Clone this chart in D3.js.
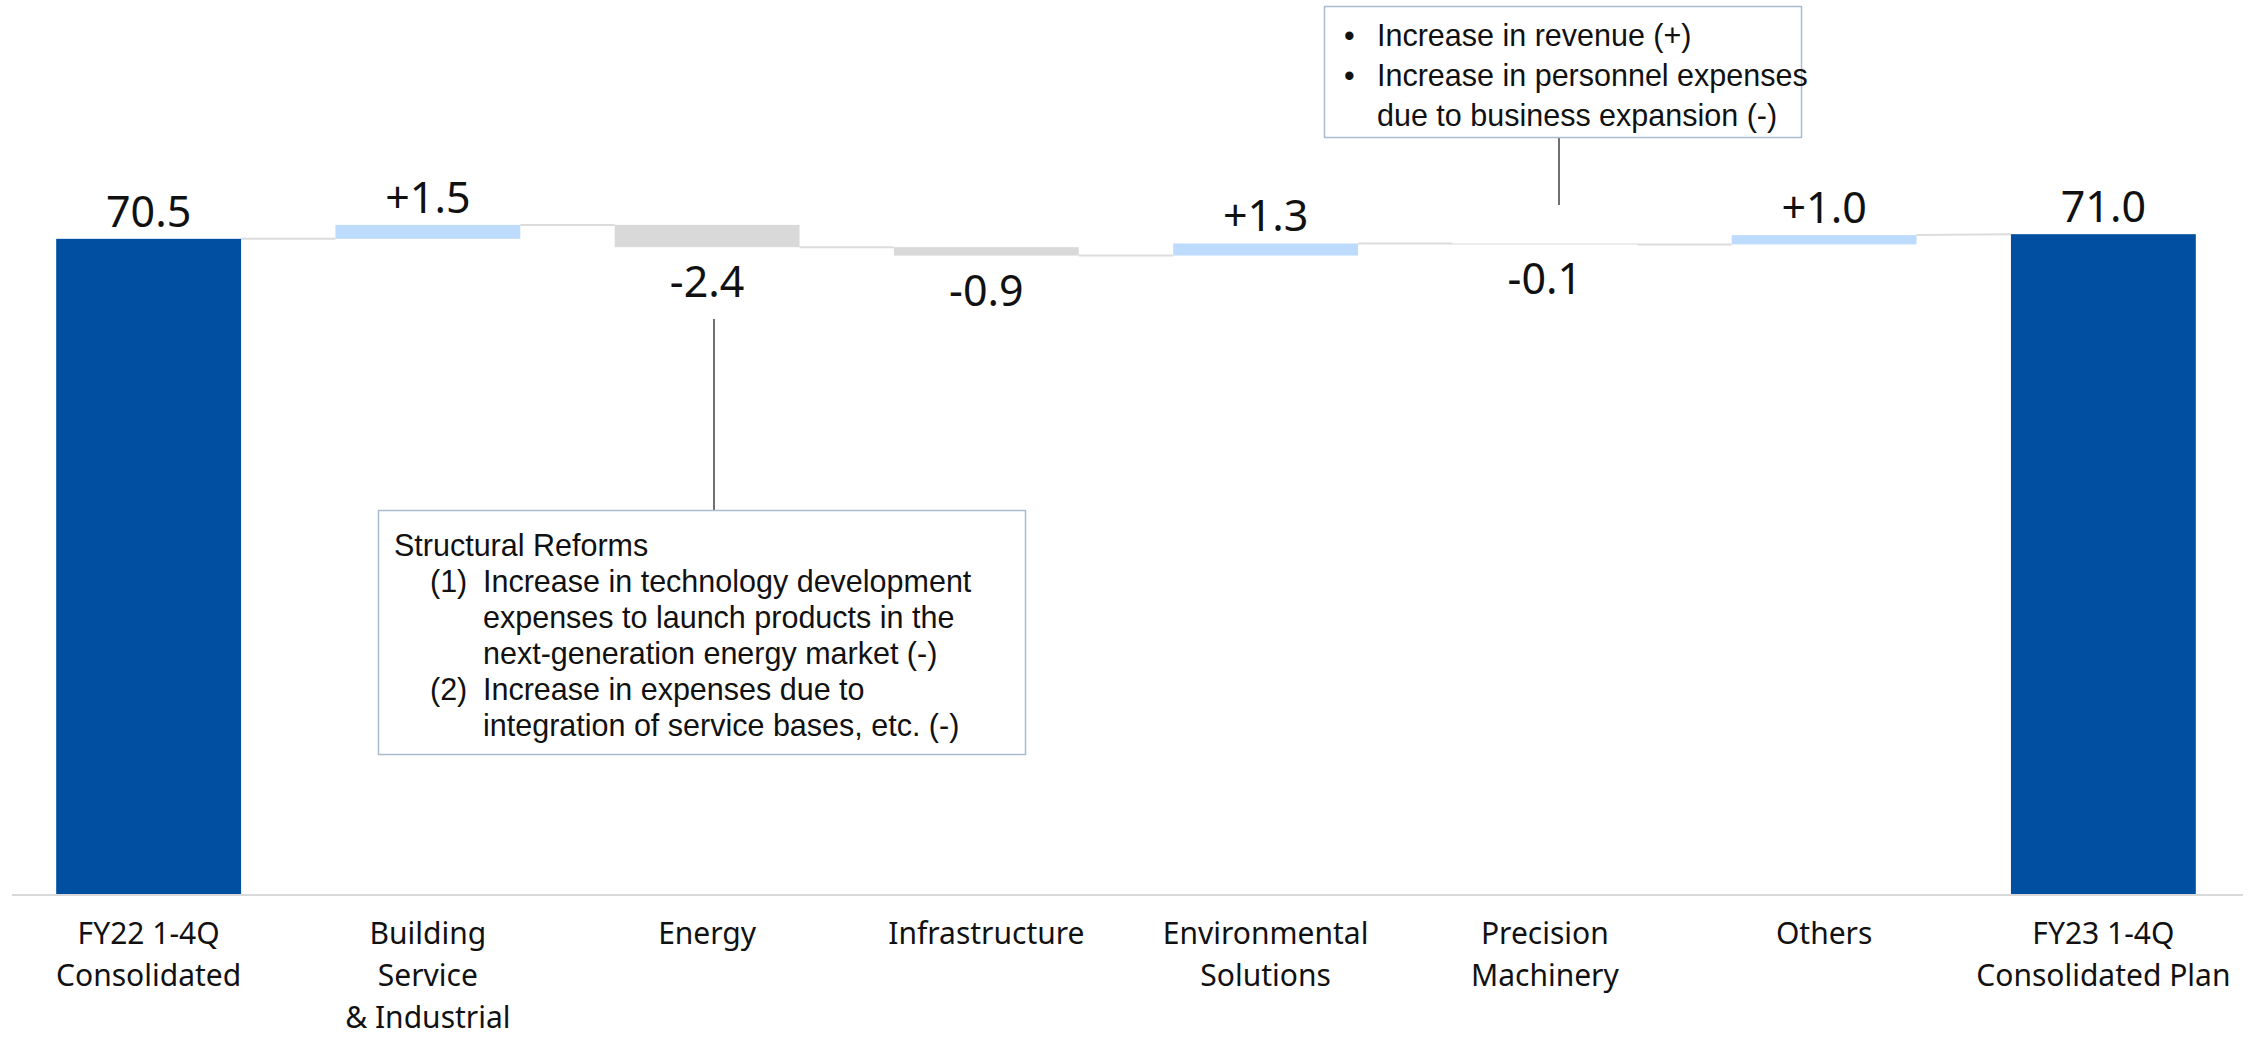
<!DOCTYPE html>
<html>
<head>
<meta charset="utf-8">
<script src="https://cdn.jsdelivr.net/npm/d3@7.9.0/dist/d3.min.js"></script>
<style>
  html, body { margin: 0; padding: 0; background: #fff; }
  svg { display: block; font-family: "Noto Sans", sans-serif; }
  .note { font-family: "Liberation Sans", Arial, sans-serif; }
</style>
</head>
<body>
<svg id="chart"></svg>
<script>
const width = 2261;
const height = 1037;

// categories (each label split into lines)
const categories = [
  ["FY22 1-4Q", "Consolidated"],
  ["Building", "Service", "& Industrial"],
  ["Energy"],
  ["Infrastructure"],
  ["Environmental", "Solutions"],
  ["Precision", "Machinery"],
  ["Others"],
  ["FY23 1-4Q", "Consolidated Plan"]
];
const values = [70.5, 1.5, -2.4, -0.9, 1.3, -0.1, 1.0, 71.0];
const isTotal = [true, false, false, false, false, false, false, true];

const energyNote = [
  { text: "Structural Reforms", num: "" },
  { text: "Increase in technology development", num: "(1)" },
  { text: "expenses to launch products in the", num: "" },
  { text: "next-generation energy market (-)", num: "" },
  { text: "Increase in expenses due to", num: "(2)" },
  { text: "integration of service bases, etc. (-)", num: "" }
];
const precisionNote = [
  { text: "Increase in revenue (+)", bullet: true },
  { text: "Increase in personnel expenses", bullet: true },
  { text: "due to business expansion (-)", bullet: false }
];

const colors = { total: "#004fa0", up: "#bddbfd", down: "#d9d9d9" };

const keys = categories.map((c) => c.join(" "));

// build waterfall steps
let running = 0;
const steps = values.map((v, i) => {
  let start, end;
  if (isTotal[i]) {
    start = 0;
    end = v;
    running = v;
  } else {
    start = running;
    end = running + v;
    running = end;
  }
  return { key: keys[i], lines: categories[i], value: v, total: isTotal[i], start, end };
});

const svg = d3.select("#chart").attr("width", width).attr("height", height);

const x = d3.scaleBand()
  .domain(keys)
  .range([9, 2243])
  .paddingInner(0.338)
  .paddingOuter(0.169);

const y = d3.scaleLinear().domain([0, 96.2]).range([894, 0]);

// connectors between bars
const conn = svg.append("g").attr("class", "connectors");
steps.slice(0, -1).forEach((d, i) => {
  const next = steps[i + 1];
  const nextStart = next.total ? next.end : next.start;
  conn.append("line")
    .attr("x1", x(d.key) + x.bandwidth())
    .attr("x2", x(next.key))
    .attr("y1", y(d.end))
    .attr("y2", y(nextStart))
    .attr("stroke", "#dcdcdc")
    .attr("stroke-width", 2);
});

// bars
svg.append("g")
  .selectAll("rect")
  .data(steps)
  .join("rect")
  .attr("x", (d) => x(d.key))
  .attr("width", x.bandwidth())
  .attr("y", (d) => y(Math.max(d.start, d.end)))
  .attr("height", (d) => Math.max(1, Math.abs(y(d.start) - y(d.end))))
  .attr("fill", (d) => d.total ? colors.total : (d.value >= 0 ? colors.up : colors.down));

// baseline axis
svg.append("line")
  .attr("x1", x.range()[0] + 3).attr("x2", x.range()[1])
  .attr("y1", y(0) + 1).attr("y2", y(0) + 1)
  .attr("stroke", "#d9d9d9").attr("stroke-width", 2);

// value labels
const fmtTotal = d3.format(".1f");
const fmtDelta = d3.format("+.1f");
svg.append("g")
  .selectAll("text")
  .data(steps)
  .join("text")
  .attr("x", (d) => x(d.key) + x.bandwidth() / 2)
  .attr("y", (d) => {
    if (d.total || d.value >= 0) return y(Math.max(d.start, d.end)) - 12;
    return y(Math.min(d.start, d.end)) + 50;
  })
  .attr("text-anchor", "middle")
  .attr("font-size", 43)
  .attr("fill", "#111")
  .text((d) => d.total ? fmtTotal(d.value) : fmtDelta(d.value).replace("\u2212", "-"));

// category labels
const cat = svg.append("g").selectAll("text").data(steps).join("text")
  .attr("text-anchor", "middle")
  .attr("font-size", 30)
  .attr("fill", "#111");
cat.each(function (d) {
  const t = d3.select(this);
  d.lines.forEach((ln, j) => {
    t.append("tspan")
      .attr("x", x(d.key) + x.bandwidth() / 2)
      .attr("y", 944 + j * 42)
      .text(ln);
  });
});

// annotation: Energy
svg.append("line")
  .attr("x1", 714).attr("x2", 714)
  .attr("y1", 319).attr("y2", 510)
  .attr("stroke", "#404040").attr("stroke-width", 1.5);
const eBox = svg.append("g").attr("class", "note");
eBox.append("rect")
  .attr("x", 378.5).attr("y", 510.5).attr("width", 647).attr("height", 244)
  .attr("fill", "#fff").attr("stroke", "#a9bccf").attr("stroke-width", 1.5);
energyNote.forEach((ln, j) => {
  const yy = 556 + j * 36;
  if (ln.num) {
    eBox.append("text").attr("x", 430).attr("y", yy).attr("font-size", 30.5).attr("fill", "#111").text(ln.num);
  }
  eBox.append("text")
    .attr("x", j === 0 ? 394 : 483)
    .attr("y", yy)
    .attr("font-size", 30.5)
    .attr("fill", "#111")
    .text(ln.text);
});

// annotation: Precision Machinery
svg.append("line")
  .attr("x1", 1559).attr("x2", 1559)
  .attr("y1", 137).attr("y2", 205)
  .attr("stroke", "#404040").attr("stroke-width", 1.5);
const pBox = svg.append("g").attr("class", "note");
pBox.append("rect")
  .attr("x", 1324.5).attr("y", 6.5).attr("width", 477).attr("height", 131)
  .attr("fill", "#fff").attr("stroke", "#a9bccf").attr("stroke-width", 1.5);
precisionNote.forEach((ln, j) => {
  const yy = 46 + j * 40;
  if (ln.bullet) {
    pBox.append("text").attr("x", 1344).attr("y", yy).attr("font-size", 30.5).attr("fill", "#111").text("\u2022");
  }
  pBox.append("text")
    .attr("x", 1377)
    .attr("y", yy)
    .attr("font-size", 30.5)
    .attr("fill", "#111")
    .text(ln.text);
});
</script>
</body>
</html>
